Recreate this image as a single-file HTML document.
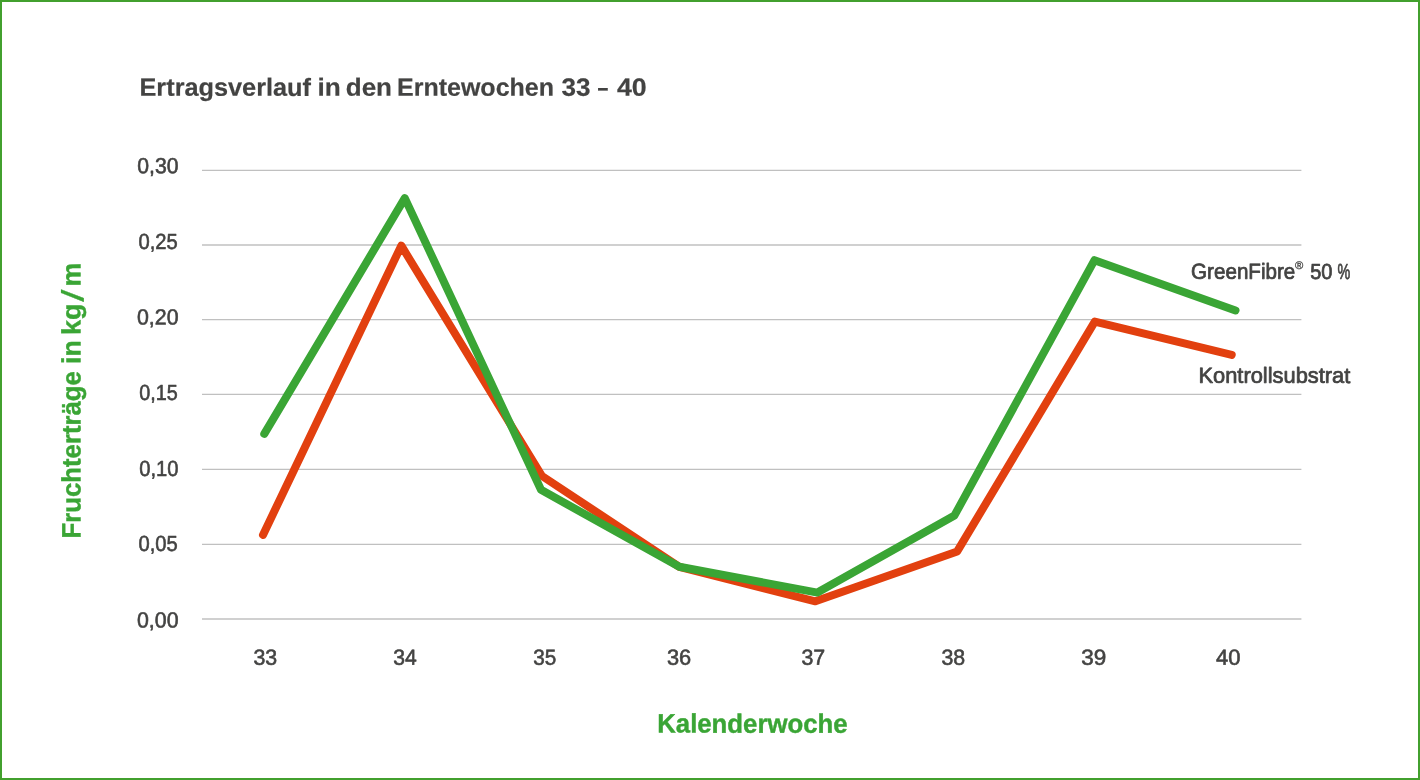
<!DOCTYPE html>
<html lang="de">
<head>
<meta charset="utf-8">
<title>Ertragsverlauf in den Erntewochen 33 – 40</title>
<style>
html,body{margin:0;padding:0;background:#fff;}
body{width:1420px;height:780px;overflow:hidden;position:relative;font-family:"Liberation Sans",sans-serif;}
#frame{position:absolute;left:0;top:0;width:1420px;height:780px;box-sizing:border-box;border:2px solid #42a02e;}
svg{position:absolute;left:0;top:0;display:block;}
text{font-family:"Liberation Sans",sans-serif;text-rendering:geometricPrecision;}
</style>
</head>
<body>
<div id="frame"></div>
<svg width="1420" height="780" viewBox="0 0 1420 780">
<g id="grid" stroke="#c0c0c0" stroke-width="1.3" fill="none">
<line x1="202.0" y1="170.35" x2="1301.4" y2="170.35"/>
<line x1="202.0" y1="245.00" x2="1301.4" y2="245.00"/>
<line x1="202.0" y1="319.70" x2="1301.4" y2="319.70"/>
<line x1="202.0" y1="394.40" x2="1301.4" y2="394.40"/>
<line x1="202.0" y1="469.30" x2="1301.4" y2="469.30"/>
<line x1="202.0" y1="544.35" x2="1301.4" y2="544.35"/>
<line x1="202.0" y1="619.00" x2="1301.4" y2="619.00"/>
</g>
<g id="series">
<polyline points="263.0,534.9 401.3,245.7 542.0,476.0 679.3,566.8 815.4,601.3 957.2,551.4 1094.8,321.6 1231.7,354.9" fill="none" stroke="#e2400f" stroke-width="8" stroke-linecap="round" stroke-linejoin="round"/>
<polyline points="264.3,433.9 404.8,198.1 541.0,489.8 679.3,566.8 817.4,592.6 954.5,515.4 1094.5,260.2 1235.5,310.5" fill="none" stroke="#3aa535" stroke-width="8" stroke-linecap="round" stroke-linejoin="round"/>
</g>
<g id="title">
<text id="t0" font-size="25.00" font-weight="bold" fill="#434342" stroke="#434342" stroke-width="0.2" stroke-linejoin="round" textLength="171.50" lengthAdjust="spacingAndGlyphs" transform="translate(139.50 95.80) rotate(0.03)">Ertragsverlauf</text>
<text id="t1" font-size="25.00" font-weight="bold" fill="#434342" stroke="#434342" stroke-width="0.2" stroke-linejoin="round" textLength="23.25" lengthAdjust="spacingAndGlyphs" transform="translate(317.50 95.80) rotate(0.03)">in</text>
<text id="t2" font-size="25.00" font-weight="bold" fill="#434342" stroke="#434342" stroke-width="0.2" stroke-linejoin="round" textLength="46.25" lengthAdjust="spacingAndGlyphs" transform="translate(345.75 95.80) rotate(0.03)">den</text>
<text id="t3" font-size="25.00" font-weight="bold" fill="#434342" stroke="#434342" stroke-width="0.2" stroke-linejoin="round" textLength="157.00" lengthAdjust="spacingAndGlyphs" transform="translate(397.00 95.80) rotate(0.03)">Erntewochen</text>
<text id="t4" font-size="25.00" font-weight="bold" fill="#434342" stroke="#434342" stroke-width="0.2" stroke-linejoin="round" textLength="29.00" lengthAdjust="spacingAndGlyphs" transform="translate(561.50 95.80) rotate(0.03)">33</text>
<text id="t5" font-size="25.00" font-weight="bold" fill="#434342" stroke="#434342" stroke-width="0.2" stroke-linejoin="round" textLength="10.75" lengthAdjust="spacingAndGlyphs" transform="translate(597.50 95.80) rotate(0.03)">–</text>
<text id="t6" font-size="25.00" font-weight="bold" fill="#434342" stroke="#434342" stroke-width="0.2" stroke-linejoin="round" textLength="29.75" lengthAdjust="spacingAndGlyphs" transform="translate(617.00 95.80) rotate(0.03)">40</text>
</g>
<g id="ylabels">
<text id="y0" font-size="21.90" fill="#434342" stroke="#434342" stroke-width="0.6" stroke-linejoin="round" textLength="41.25" lengthAdjust="spacingAndGlyphs" transform="translate(137.25 173.30) rotate(0.03)">0,30</text>
<text id="y1" font-size="21.90" fill="#434342" stroke="#434342" stroke-width="0.6" stroke-linejoin="round" textLength="39.25" lengthAdjust="spacingAndGlyphs" transform="translate(138.50 249.30) rotate(0.03)">0,25</text>
<text id="y2" font-size="21.90" fill="#434342" stroke="#434342" stroke-width="0.6" stroke-linejoin="round" textLength="41.50" lengthAdjust="spacingAndGlyphs" transform="translate(137.00 324.60) rotate(0.03)">0,20</text>
<text id="y3" font-size="21.90" fill="#434342" stroke="#434342" stroke-width="0.6" stroke-linejoin="round" textLength="38.50" lengthAdjust="spacingAndGlyphs" transform="translate(139.25 400.30) rotate(0.03)">0,15</text>
<text id="y4" font-size="21.90" fill="#434342" stroke="#434342" stroke-width="0.6" stroke-linejoin="round" textLength="39.25" lengthAdjust="spacingAndGlyphs" transform="translate(139.25 476.40) rotate(0.03)">0,10</text>
<text id="y5" font-size="21.90" fill="#434342" stroke="#434342" stroke-width="0.6" stroke-linejoin="round" textLength="39.25" lengthAdjust="spacingAndGlyphs" transform="translate(138.50 551.40) rotate(0.03)">0,05</text>
<text id="y6" font-size="21.90" fill="#434342" stroke="#434342" stroke-width="0.6" stroke-linejoin="round" textLength="41.50" lengthAdjust="spacingAndGlyphs" transform="translate(137.00 627.50) rotate(0.03)">0,00</text>
</g>
<g id="xlabels">
<text id="x0" font-size="21.90" fill="#434342" stroke="#434342" stroke-width="0.6" stroke-linejoin="round" textLength="23.75" lengthAdjust="spacingAndGlyphs" transform="translate(253.50 664.65) rotate(0.03)">33</text>
<text id="x1" font-size="21.90" fill="#434342" stroke="#434342" stroke-width="0.6" stroke-linejoin="round" textLength="23.50" lengthAdjust="spacingAndGlyphs" transform="translate(393.25 664.65) rotate(0.03)">34</text>
<text id="x2" font-size="21.90" fill="#434342" stroke="#434342" stroke-width="0.6" stroke-linejoin="round" textLength="23.00" lengthAdjust="spacingAndGlyphs" transform="translate(533.25 664.65) rotate(0.03)">35</text>
<text id="x3" font-size="21.90" fill="#434342" stroke="#434342" stroke-width="0.6" stroke-linejoin="round" textLength="24.25" lengthAdjust="spacingAndGlyphs" transform="translate(667.00 664.65) rotate(0.03)">36</text>
<text id="x4" font-size="21.90" fill="#434342" stroke="#434342" stroke-width="0.6" stroke-linejoin="round" textLength="23.75" lengthAdjust="spacingAndGlyphs" transform="translate(801.50 664.65) rotate(0.03)">37</text>
<text id="x5" font-size="21.90" fill="#434342" stroke="#434342" stroke-width="0.6" stroke-linejoin="round" textLength="23.75" lengthAdjust="spacingAndGlyphs" transform="translate(941.50 664.65) rotate(0.03)">38</text>
<text id="x6" font-size="21.90" fill="#434342" stroke="#434342" stroke-width="0.6" stroke-linejoin="round" textLength="25.00" lengthAdjust="spacingAndGlyphs" transform="translate(1081.25 664.65) rotate(0.03)">39</text>
<text id="x7" font-size="21.90" fill="#434342" stroke="#434342" stroke-width="0.6" stroke-linejoin="round" textLength="24.50" lengthAdjust="spacingAndGlyphs" transform="translate(1216.00 664.65) rotate(0.03)">40</text>
</g>
<g id="xtitle">
<text id="xt" font-size="26.60" font-weight="bold" fill="#3aa535" stroke="#3aa535" stroke-width="0.4" stroke-linejoin="round" textLength="190.25" lengthAdjust="spacingAndGlyphs" transform="translate(657.25 732.60) rotate(0.03)">Kalenderwoche</text>
</g>
<g id="ytitle">
<text id="yt0" font-size="26.60" font-weight="bold" fill="#3aa535" stroke="#3aa535" stroke-width="0.4" stroke-linejoin="round" textLength="167.40" lengthAdjust="spacingAndGlyphs" transform="translate(80.60 538.50) rotate(-90.03)">Fruchterträge</text>
<text id="yt1" font-size="26.60" font-weight="bold" fill="#3aa535" stroke="#3aa535" stroke-width="0.4" stroke-linejoin="round" textLength="23.55" lengthAdjust="spacingAndGlyphs" transform="translate(80.60 363.90) rotate(-90.03)">in</text>
<text id="yt2" font-size="26.60" font-weight="bold" fill="#3aa535" stroke="#3aa535" stroke-width="0.4" stroke-linejoin="round" textLength="31.40" lengthAdjust="spacingAndGlyphs" transform="translate(80.60 334.90) rotate(-90.03)">kg</text>
<text id="yt3" font-size="31.00" fill="#3aa535" stroke="#3aa535" stroke-width="0.2" stroke-linejoin="round" textLength="12.35" lengthAdjust="spacingAndGlyphs" transform="translate(83.60 301.75) rotate(-90.03)">/</text>
<text id="yt4" font-size="26.60" font-weight="bold" fill="#3aa535" stroke="#3aa535" stroke-width="0.4" stroke-linejoin="round" textLength="23.80" lengthAdjust="spacingAndGlyphs" transform="translate(80.60 286.50) rotate(-90.03)">m</text>
</g>
<g id="legend-green">
<text id="g0" font-size="21.80" fill="#434342" stroke="#434342" stroke-width="0.75" stroke-linejoin="round" textLength="104.15" lengthAdjust="spacingAndGlyphs" transform="translate(1191.10 278.75) rotate(0.03)">GreenFibre</text>
<text id="g1" font-size="11.00" fill="#434342" stroke="#434342" stroke-width="0.3" stroke-linejoin="round" textLength="8.25" lengthAdjust="spacingAndGlyphs" transform="translate(1295.00 269.00) rotate(0.03)">®</text>
<text id="g2" font-size="21.80" fill="#434342" stroke="#434342" stroke-width="0.75" stroke-linejoin="round" textLength="22.25" lengthAdjust="spacingAndGlyphs" transform="translate(1310.25 278.75) rotate(0.03)">50</text>
<text id="g3" font-size="21.80" fill="#434342" stroke="#434342" stroke-width="0.7" stroke-linejoin="round" textLength="12.75" lengthAdjust="spacingAndGlyphs" transform="translate(1337.50 278.75) rotate(0.03)">%</text>
</g>
<g id="legend-red">
<text id="k0" font-size="21.80" fill="#434342" stroke="#434342" stroke-width="0.75" stroke-linejoin="round" textLength="151.80" lengthAdjust="spacingAndGlyphs" transform="translate(1198.50 382.80) rotate(0.03)">Kontrollsubstrat</text>
</g>
</svg>
</body>
</html>
